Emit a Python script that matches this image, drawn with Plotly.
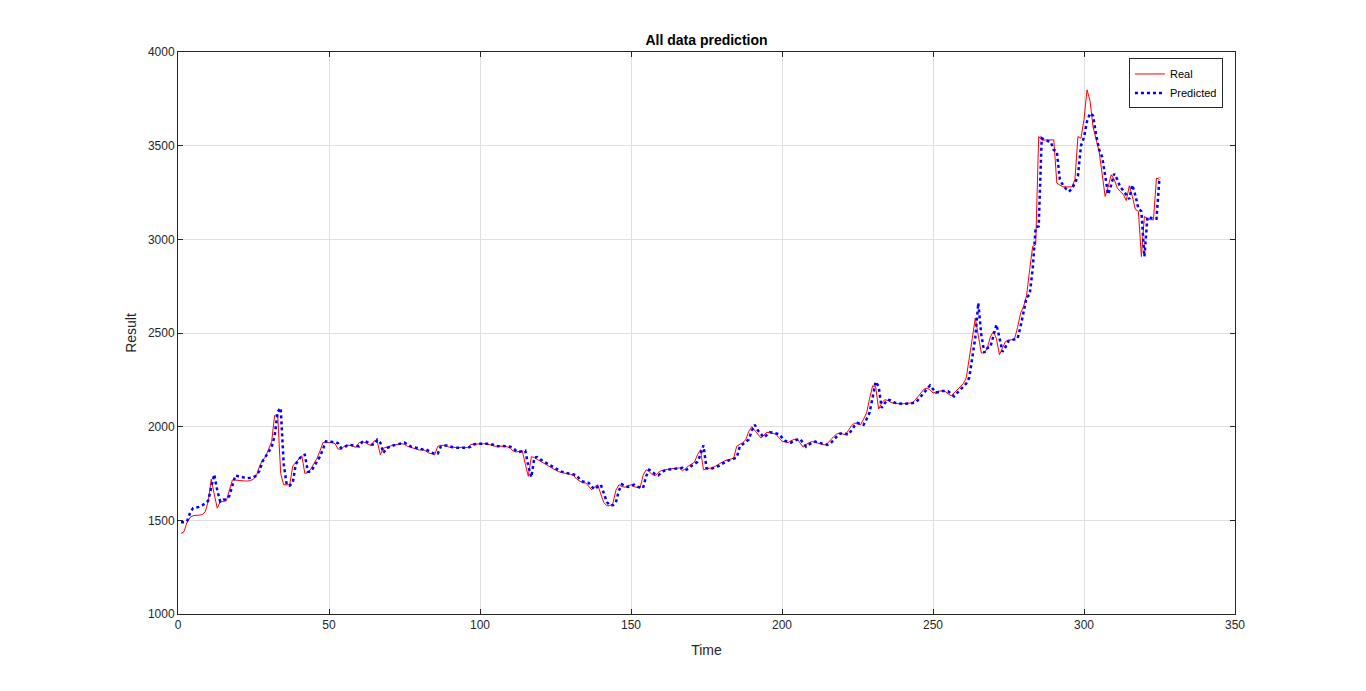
import plotly.graph_objects as go

real = [
    1430,1440,1490,1515,1525,1525,1528,1530,1545,1600,
    1720,1640,1565,1600,1600,1605,1660,1715,1715,1712,
    1710,1710,1710,1712,1720,1740,1790,1820,1840,1880,
    1920,2060,2065,1750,1690,1690,1690,1790,1810,1830,
    1845,1750,1755,1775,1800,1830,1870,1915,1915,1915,
    1915,1910,1880,1880,1895,1900,1900,1895,1890,1915,
    1920,1915,1905,1900,1925,1920,1850,1885,1890,1895,
    1900,1905,1905,1910,1905,1895,1890,1885,1880,1875,
    1880,1870,1860,1855,1850,1895,1900,1900,1895,1890,
    1890,1888,1888,1890,1888,1890,1905,1907,1907,1908,
    1910,1909,1905,1900,1895,1897,1895,1895,1893,1885,
    1870,1865,1870,1872,1800,1735,1840,1835,1825,1815,
    1805,1797,1785,1775,1768,1760,1755,1750,1748,1745,
    1740,1720,1708,1700,1700,1680,1663,1680,1690,1640,
    1595,1578,1578,1590,1660,1690,1680,1677,1685,1690,
    1680,1675,1672,1740,1770,1760,1745,1738,1755,1765,
    1770,1772,1775,1777,1780,1780,1765,1775,1790,1800,
    1810,1850,1877,1770,1775,1778,1780,1790,1800,1810,
    1818,1822,1828,1832,1895,1905,1915,1930,1975,2000,
    1978,1960,1940,1955,1970,1968,1966,1960,1940,1922,
    1918,1915,1925,1932,1934,1910,1891,1905,1915,1920,
    1915,1910,1905,1903,1910,1930,1945,1960,1966,1962,
    1957,1980,2005,2019,2015,2010,2040,2073,2150,2218,
    2214,2094,2125,2144,2140,2130,2125,2122,2122,2122,
    2125,2126,2126,2140,2160,2180,2200,2206,2197,2180,
    2185,2190,2190,2189,2175,2165,2180,2195,2210,2229,
    2260,2357,2470,2580,2480,2393,2393,2420,2480,2508,
    2470,2384,2420,2455,2460,2465,2468,2530,2606,2642,
    2700,2838,2962,2970,3549,3530,3531,3531,3531,3531,
    3300,3290,3280,3280,3280,3280,3320,3549,3540,3640,
    3798,3740,3600,3531,3469,3350,3229,3280,3345,3320,
    3275,3255,3240,3207,3286,3230,3160,3150,2908,3122,
    3110,3105,3104,3327,3320,
]

predicted = [
    1490,1490,1495,1540,1565,1568,1572,1580,1590,1605,
    1680,1745,1660,1600,1610,1612,1630,1690,1740,1735,
    1730,1728,1725,1726,1730,1740,1765,1815,1840,1860,
    1890,1950,2080,2100,1800,1690,1685,1700,1800,1825,
    1845,1850,1760,1760,1785,1810,1840,1880,1922,1920,
    1920,1918,1912,1885,1888,1900,1903,1902,1897,1895,
    1918,1924,1915,1905,1905,1930,1915,1860,1885,1893,
    1898,1903,1908,1912,1915,1905,1895,1890,1885,1880,
    1878,1880,1870,1862,1855,1855,1893,1900,1900,1893,
    1890,1888,1888,1888,1890,1888,1893,1905,1908,1908,
    1910,1910,1909,1905,1900,1895,1897,1895,1895,1893,
    1885,1870,1865,1870,1872,1790,1730,1835,1838,1825,
    1815,1805,1797,1785,1775,1768,1760,1755,1750,1748,
    1745,1740,1720,1708,1703,1700,1680,1665,1680,1690,
    1645,1598,1580,1580,1595,1660,1692,1682,1678,1685,
    1690,1680,1675,1672,1735,1770,1760,1745,1740,1755,
    1765,1770,1772,1775,1778,1780,1780,1768,1775,1790,
    1800,1812,1850,1900,1778,1775,1778,1782,1790,1800,
    1810,1818,1822,1828,1835,1893,1905,1915,1932,1978,
    2010,1980,1962,1942,1956,1970,1968,1966,1960,1942,
    1925,1918,1915,1925,1932,1935,1912,1893,1905,1915,
    1920,1915,1910,1905,1903,1910,1930,1945,1960,1966,
    1962,1957,1980,2005,2020,2015,2010,2040,2075,2155,
    2240,2215,2100,2125,2145,2140,2130,2125,2122,2122,
    2122,2125,2126,2128,2142,2162,2182,2202,2220,2200,
    2182,2185,2190,2190,2189,2175,2162,2180,2195,2210,
    2230,2262,2360,2475,2660,2490,2395,2420,2425,2480,
    2545,2475,2400,2425,2458,2462,2466,2470,2535,2610,
    2690,2705,2840,3065,3070,3540,3530,3525,3520,3477,
    3470,3320,3290,3270,3255,3270,3300,3340,3500,3545,
    3630,3673,3660,3560,3480,3440,3340,3240,3290,3350,
    3320,3280,3260,3240,3215,3290,3235,3165,3150,2908,
    3120,3115,3110,3110,3330,
]

time_real = list(range(1, len(real) + 1))
time_pred = list(range(1, len(predicted) + 1))

x_ticks = [0, 50, 100, 150, 200, 250, 300, 350]
y_ticks = [1000, 1500, 2000, 2500, 3000, 3500, 4000]

font_family = "Liberation Sans, Arial, sans-serif"

W, H = 1350, 675
ML, MT = 170, 44
PW, PH = 1057, 562

fig = go.Figure()
fig.add_trace(go.Scatter(x=time_real, y=real, mode="lines", name="Real",
                         line=dict(color="#ff0000", width=1)))
fig.add_trace(go.Scatter(x=time_pred, y=predicted, mode="lines", name="Predicted",
                         line=dict(color="#0000ff", width=2.5, dash="dot")))

axis_common = dict(
    showline=True, linecolor="#262626", linewidth=1, mirror="ticks",
    ticks="inside", ticklen=5, tickcolor="#262626", tickwidth=1,
    showgrid=True, gridcolor="#dfdfdf", gridwidth=1, zeroline=False,
    tickfont=dict(family=font_family, size=12, color="#262626"),
)

fig.update_layout(
    width=W, height=H,
    paper_bgcolor="white", plot_bgcolor="white",
    margin=dict(l=ML, r=W - ML - PW, t=MT, b=H - MT - PH),
    title=dict(text="<b>All data prediction</b>", x=(ML + PW / 2) / W, xanchor="center",
               y=1 - 32 / H, yanchor="middle",
               font=dict(family=font_family, size=14, color="#000000")),
    xaxis=dict(range=[0, 350], tickvals=x_ticks,
               title=dict(text="Time", standoff=13,
                          font=dict(family=font_family, size=14, color="#262626")),
               **axis_common),
    yaxis=dict(range=[1000, 4000], tickvals=y_ticks,
               title=dict(text="Result", standoff=7,
                          font=dict(family=font_family, size=14, color="#262626")),
               **axis_common),
    legend=dict(x=0.9886, y=0.944, xanchor="right", yanchor="middle",
                bgcolor="white", bordercolor="#262626", borderwidth=1,
                font=dict(family=font_family, size=11, color="#000000"),
                tracegroupgap=0, itemwidth=30,
                entrywidth=62, entrywidthmode="pixels"),
    showlegend=True,
)

fig.write_html("out.html")
